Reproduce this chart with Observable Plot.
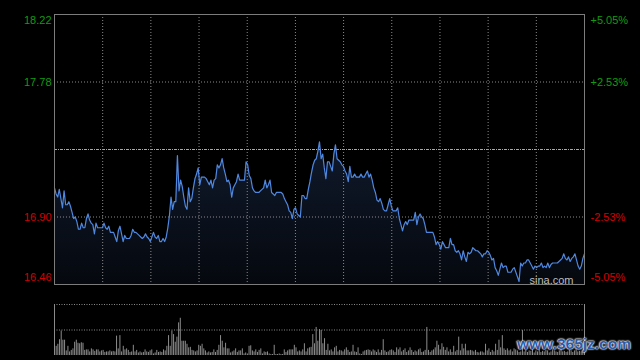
<!DOCTYPE html>
<html>
<head>
<meta charset="utf-8">
<script src="https://cdn.jsdelivr.net/npm/d3@7"></script>
<script src="https://cdn.jsdelivr.net/npm/@observablehq/plot@0.6"></script>
<style>
  html, body { margin: 0; padding: 0; background: #000; }
  #wrap { position: relative; width: 640px; height: 360px; overflow: hidden; background: #000; }
  #wrap svg { display: block; }
  #wm { position: absolute; left: 517px; top: 335px; font: bold 15.5px "Liberation Sans", Arial, sans-serif;
        color: #2a5aa8; -webkit-text-stroke: 0; text-shadow: 0 0 2px #fff, 0 0 2px #fff, 0 0 1px #fff; letter-spacing: 0px; }
</style>
</head>
<body>
<div id="wrap"></div>
<script>
// ---- data ----
const prevClose = 17.34;
const leftTicks = [18.22, 17.78, 16.90, 16.46];
const rightTicks = ["+5.05%", "+2.53%", "-2.53%", "-5.05%"];
const gridPrices = [17.78, 16.90];
const gridDivisions = 11;

const prices = [
17.09,17.05,17.03,17.08,17.02,16.96,17.07,16.98,16.98,17.00,
16.97,16.93,16.89,16.90,16.87,16.82,16.82,16.86,16.83,16.83,
16.89,16.92,16.88,16.86,16.85,16.79,16.86,16.83,16.83,16.83,
16.83,16.86,16.83,16.82,16.84,16.80,16.80,16.80,16.77,16.74,
16.81,16.84,16.79,16.74,16.78,16.76,16.76,16.76,16.78,16.82,
16.80,16.80,16.79,16.78,16.77,16.76,16.77,16.79,16.77,16.76,
16.74,16.77,16.80,16.77,16.76,16.78,16.74,16.74,16.76,16.74,
16.77,16.83,16.91,17.03,16.95,17.00,17.00,17.30,17.07,17.14,
17.10,17.03,16.97,
16.95,17.09,17.00,17.02,17.09,17.15,17.18,17.22,17.11,17.16,
17.16,17.16,17.15,17.13,17.11,17.14,17.09,17.14,17.15,17.24,
17.22,17.24,17.28,17.22,17.18,17.13,17.14,17.11,17.03,17.09,
17.11,17.13,17.18,17.14,17.14,17.14,17.14,17.26,17.24,17.17,
17.15,17.09,17.07,17.06,17.06,17.06,17.07,17.08,17.09,17.14,
17.09,17.11,17.14,17.06,17.05,17.04,17.06,17.06,17.06,17.06,
17.05,17.02,17.00,16.98,16.94,16.93,16.89,16.95,16.96,16.92,
16.91,16.90,17.04,17.04,17.02,17.02,17.08,17.13,17.19,17.24,
17.27,17.28,17.33,17.39,17.28,
17.31,17.22,17.15,17.26,17.26,17.23,17.20,17.31,17.37,17.28,
17.27,17.26,17.24,17.23,17.20,17.18,17.13,17.23,17.16,17.16,
17.18,17.16,17.16,17.16,17.18,17.16,17.16,17.18,17.20,17.16,
17.18,17.14,17.09,17.06,17.01,17.00,17.02,16.99,16.95,16.94,
16.94,16.98,17.02,16.97,16.94,16.94,16.94,16.96,16.89,16.85,
16.81,16.85,16.87,16.85,16.88,16.88,16.88,16.88,16.93,16.85,
16.90,16.92,16.90,16.89,16.85,16.80,16.80,16.80,16.80,16.80,
16.77,16.72,16.74,16.72,16.69,16.74,16.72,16.70,16.70,16.70,
16.76,16.72,16.72,16.68,
16.67,16.68,16.66,16.62,16.68,16.64,16.61,16.67,16.66,16.67,
16.70,16.69,16.68,16.68,16.67,16.66,16.64,16.66,16.66,16.68,
16.67,16.65,16.62,16.63,16.57,16.55,16.52,16.56,16.60,16.57,
16.58,16.58,16.54,16.54,16.54,16.56,16.57,16.54,16.51,16.48,
16.60,16.58,16.60,16.60,16.62,16.62,16.60,16.58,16.56,16.58,
16.57,16.58,16.58,16.60,16.57,16.58,16.57,16.60,16.57,16.59,
16.60,16.60,16.60,16.60,16.61,16.62,16.63,16.66,16.63,16.62,
16.64,16.61,16.63,16.64,16.66,16.62,16.58,16.56,16.58,16.63,
16.66
];

// volume, in units where the panel top = 100
const volumes = [
53,18,22,31,48,30,30,9,18,7,10,13,26,30,24,23,25,24,10,11,11,7,13,11,8,11,11,7,9,10,6,7,7,9,7,8,7,38,13,39,
7,18,11,13,10,6,7,20,7,10,5,7,5,6,11,7,6,9,11,3,5,10,6,7,6,11,9,18,39,18,48,41,26,36,64,73,28,28,28,22,
15,16,10,9,7,9,20,18,22,13,9,5,7,5,6,11,6,10,20,39,28,15,24,13,13,5,7,9,13,6,9,9,13,3,5,3,18,19,9,7,
11,6,10,13,3,7,6,7,3,2,2,20,2,2,3,2,2,11,6,9,11,11,11,20,15,7,9,7,11,23,7,13,15,16,41,23,55,28,51,
49,23,33,10,22,9,11,7,15,18,7,10,9,7,11,15,10,6,7,20,7,6,15,3,2,7,9,10,11,10,7,11,9,6,11,5,10,31,9,6,
7,10,11,9,6,15,11,15,7,10,13,6,9,15,10,6,9,7,11,13,6,7,10,55,10,6,9,11,15,28,20,11,23,16,10,15,7,11,6,18,
7,10,36,9,22,13,22,9,9,10,9,7,10,6,5,7,7,5,22,9,13,6,10,7,22,10,30,15,39,13,10,13,9,11,7,13,11,9,6,7,
49,7,10,6,9,8,11,5,9,7,12,6,8,7,10,9,5,7,11,9,7,6,9,12,7,8,6,7,10,9,6,9,11,7,8,7,6,9
];

// ---- styles ----
const GREEN = "#119c11", RED = "#d40000";
const FONT = "'Liberation Sans', Arial, sans-serif";
const ML = 54, MR = 56;

const N = prices.length;
const NV = volumes.length;
const yMin = d3.min(leftTicks), yMax = d3.max(leftTicks);
const ticks = leftTicks.map((v, i) => ({v, l: v.toFixed(2), r: rightTicks[i]}));
const col = d => d.v > prevClose ? GREEN : d.v < prevClose ? RED : "#aaa";
const topT = ticks.filter(d => d.v === yMax);
const botT = ticks.filter(d => d.v === yMin);
const midT = ticks.filter(d => d.v !== yMax && d.v !== yMin);
const vGrid = d3.range(1, gridDivisions).map(k => k * (N - 1) / gridDivisions);

const labelMarks = (data, dy) => [
  Plot.text(data, {y: "v", text: "l", frameAnchor: "left", textAnchor: "end", dx: -3, dy, fill: col, fontSize: 11}),
  Plot.text(data, {y: "v", text: "r", frameAnchor: "right", textAnchor: "start", dx: 6, dy, fill: col, fontSize: 11})
];

const defs = () => {
  const g = d3.create("svg:defs");
  const lg = g.append("linearGradient").attr("id", "areaGrad").attr("x1", 0).attr("x2", 0).attr("y1", 0).attr("y2", 1);
  lg.append("stop").attr("offset", "0%").attr("stop-color", "#101a2c");
  lg.append("stop").attr("offset", "100%").attr("stop-color", "#05080e");
  return g.node();
};

const pricePlot = Plot.plot({
  width: 640, height: 290,
  marginLeft: ML, marginRight: MR, marginTop: 14, marginBottom: 6,
  style: {background: "transparent", fontFamily: FONT, fontSize: "11px"},
  x: {domain: [0, N - 1], axis: null},
  y: {domain: [yMin, yMax], axis: null},
  marks: [
    defs,
    Plot.areaY(prices, {x: (d, i) => i, y1: yMin, y2: d => d, fill: "url(#areaGrad)"}),
    Plot.ruleY(gridPrices, {stroke: "#8a8a8a", strokeDasharray: "1,2"}),
    Plot.ruleY([prevClose], {stroke: "#a8a8a8", strokeDasharray: "3,1,1,1"}),
    Plot.ruleX(vGrid, {stroke: "#8a8a8a", strokeDasharray: "1,2"}),
    Plot.line(prices, {x: (d, i) => i, y: d => d, stroke: "#4f88e0", strokeWidth: 1.2}),
    Plot.frame({stroke: "#7c7c7c"}),
    Plot.text(["sina.com"], {frameAnchor: "bottom-right", textAnchor: "end", dx: -11, dy: -1, fill: "#bdbdbd", fontSize: 11}),
    ...labelMarks(topT, 6),
    ...labelMarks(midT, 0),
    ...labelMarks(botT, -7)
  ]
});

const volPlot = Plot.plot({
  width: 640, height: 70,
  marginLeft: ML, marginRight: MR, marginTop: 14, marginBottom: 5,
  style: {background: "transparent", fontFamily: FONT},
  x: {domain: [0, NV - 1], axis: null},
  y: {domain: [0, 100], axis: null},
  marks: [
    Plot.ruleY([100, 50], {stroke: "#8a8a8a", strokeDasharray: "1,1.5"}),
    Plot.ruleX([0, NV - 1], {stroke: "#8a8a8a"}),
    Plot.ruleX(volumes, {x: (d, i) => i, y1: 0, y2: d => d, stroke: "#8c8c8c", strokeWidth: 1})
  ]
});

const wrap = document.getElementById("wrap");
wrap.appendChild(pricePlot);
wrap.appendChild(volPlot);
const wm = document.createElement("div");
wm.id = "wm";
wm.textContent = "www.365jz.com";
wrap.appendChild(wm);
</script>
</body>
</html>
